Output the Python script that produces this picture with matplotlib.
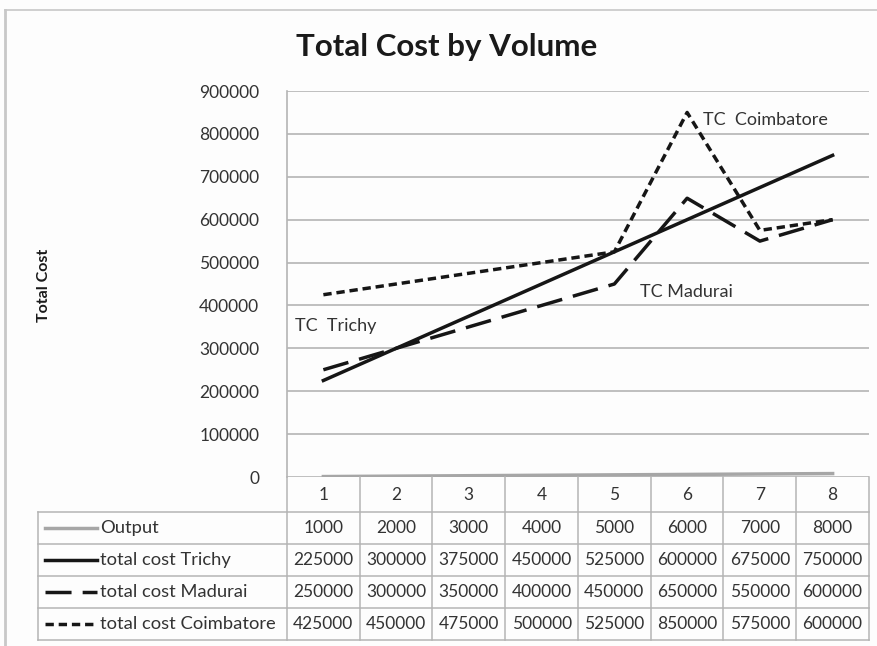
import matplotlib.pyplot as plt
from matplotlib.lines import Line2D

plt.rcParams['font.family'] = ['Lato', 'DejaVu Sans']

categories = [1, 2, 3, 4, 5, 6, 7, 8]
output = [1000, 2000, 3000, 4000, 5000, 6000, 7000, 8000]
cost_trichy = [225000, 300000, 375000, 450000, 525000, 600000, 675000, 750000]
cost_madurai = [250000, 300000, 350000, 400000, 450000, 650000, 550000, 600000]
cost_coimbatore = [425000, 450000, 475000, 500000, 525000, 850000, 575000, 600000]
series_names = ["Output", "total cost Trichy", "total cost Madurai", "total cost Coimbatore"]

W, H = 878, 646
fig = plt.figure(figsize=(W / 100, H / 100), dpi=100, facecolor='#fdfdfd')


def fx(x):
    return x / W


def fy(y):
    return 1 - y / H


# outer chart frame
fig.add_artist(Line2D([fx(5), fx(5)], [fy(10), fy(646)], color='#c8c8c8', lw=2))
fig.add_artist(Line2D([fx(5), fx(878)], [fy(10), fy(10)], color='#c8c8c8', lw=1.2))

left, right, top, bottom = 287, 869, 91, 477
ax = fig.add_axes([fx(left), fy(bottom), fx(right - left), (bottom - top) / H])
ax.set_facecolor('#fdfdfd')

styles = [
    dict(color='#a6a6a6', lw=2.5, ls='-'),
    dict(color='#161616', lw=2.5, ls='-'),
    dict(color='#161616', lw=2.5, ls=(0, (7.5, 3.2))),
    dict(color='#161616', lw=2.5, ls=(0, (2.4, 1.4))),
]
series = [output, cost_trichy, cost_madurai, cost_coimbatore]
for vals, st in zip(series, styles):
    ax.plot(categories, vals, **st)

ax.set_xlim(0.5, 8.5)
ax.set_ylim(0, 900000)
ax.set_yticks(range(0, 900001, 100000))
ax.set_yticklabels([str(v) for v in range(0, 900001, 100000)], fontsize=12.5, color='#333333')
ax.set_xticks([])
ax.tick_params(axis='y', length=0, pad=20)
ax.grid(axis='y', color='#b4b4b4', lw=1.2)
ax.set_axisbelow(True)
for s in ['top', 'right', 'bottom']:
    ax.spines[s].set_visible(False)
ax.spines['left'].set_color('#b4b4b4')
ax.spines['left'].set_linewidth(1.2)

ax.text(6.22, 832000, "TC  Coimbatore", fontsize=13, color='#333333', va='center')
ax.text(5.35, 431000, "TC Madurai", fontsize=13, color='#333333', va='center')
ax.text(0.61, 352000, "TC  Trichy", fontsize=13, color='#333333', va='center')

fig.text(fx(447), fy(47), "Total Cost by Volume", fontsize=22.5, fontweight='bold',
         ha='center', va='center', color='#1a1a1a')
fig.text(fx(44), fy(285), "Total Cost", fontsize=11.5, fontweight='bold',
         rotation=90, ha='center', va='center', color='#1a1a1a')

# data table below the plot
col_w = (right - left) / len(categories)
row_y = [477, 512, 544, 576, 608, 640]
grid_c = '#b4b4b4'
tbl_left = 38
for y in row_y[1:]:
    fig.add_artist(Line2D([fx(tbl_left), fx(right)], [fy(y), fy(y)], color=grid_c, lw=1.1))
for i in range(len(categories) + 1):
    x = left + i * col_w
    fig.add_artist(Line2D([fx(x), fx(x)], [fy(row_y[0]), fy(row_y[-1])], color=grid_c, lw=1.1))
fig.add_artist(Line2D([fx(tbl_left), fx(tbl_left)], [fy(row_y[1]), fy(row_y[-1])], color=grid_c, lw=1.1))

for i, c in enumerate(categories):
    cx = left + (i + 0.5) * col_w
    fig.text(fx(cx), fy((row_y[0] + row_y[1]) / 2), str(c), fontsize=12.5,
             ha='center', va='center', color='#333333')

for r, (name, vals, st) in enumerate(zip(series_names, series, styles)):
    yc = (row_y[r + 1] + row_y[r + 2]) / 2
    fig.add_artist(Line2D([fx(45), fx(97)], [fy(yc), fy(yc)], **st))
    fig.text(fx(100), fy(yc), name, fontsize=13.2, ha='left', va='center', color='#333333')
    for i, v in enumerate(vals):
        cx = left + (i + 0.5) * col_w
        fig.text(fx(cx), fy(yc), str(v), fontsize=12.5, ha='center', va='center', color='#333333')

fig.savefig('out.png', dpi=100, facecolor=fig.get_facecolor())
